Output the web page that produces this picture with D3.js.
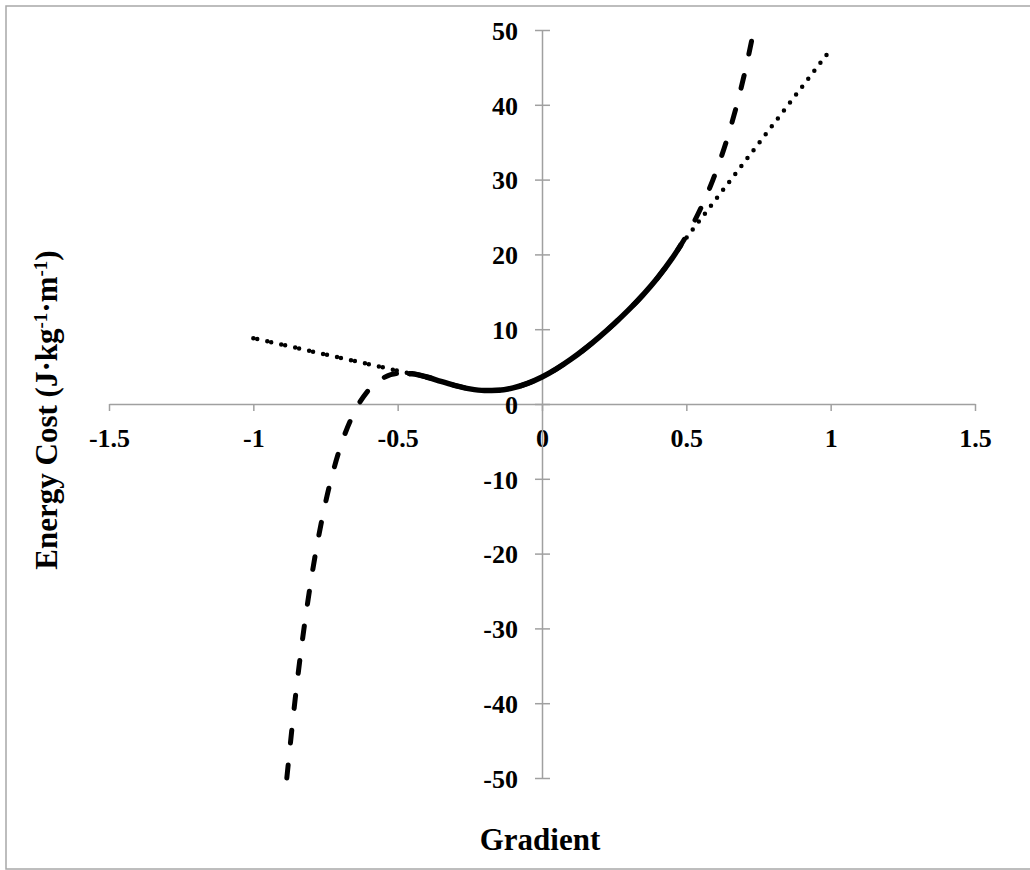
<!DOCTYPE html>
<html>
<head>
<meta charset="utf-8">
<script src="https://cdn.jsdelivr.net/npm/d3@7"></script>
<style>
    body { margin: 0; background: #fff; }
    svg text { font-family: "Liberation Serif", "Times New Roman", serif; font-weight: bold; fill: #000; }
</style>
</head>
<body>
<div id="viz_chart"></div>
<script>
// values
var xTicks = [-1.5, -1, -0.5, 0, 0.5, 1, 1.5];
var yTicks = [-50, -40, -30, -20, -10, 0, 10, 20, 30, 40, 50];

// dashed curve (full polynomial fit, runs off the chart both ends)
var gradDashed = [-0.884, -0.85, -0.8, -0.75, -0.7, -0.65, -0.6, -0.55, -0.5, -0.45, -0.4, -0.35, -0.3, -0.25, -0.2, -0.15, -0.1, -0.05, 0, 0.05, 0.1, 0.15, 0.2, 0.25, 0.3, 0.35, 0.4, 0.45, 0.5, 0.55, 0.6, 0.65, 0.7, 0.734];
var costDashed = [-50, -37.75, -23.57, -13.21, -5.93, -1.08, 1.9, 3.48, 4.08, 4.03, 3.61, 3.03, 2.46, 2.02, 1.8, 1.84, 2.15, 2.75, 3.6, 4.69, 5.97, 7.42, 9.01, 10.73, 12.58, 14.6, 16.85, 19.43, 22.47, 26.17, 30.76, 36.55, 43.9, 50];

// solid curve (measured range)
var gradSolid = [-0.46, -0.45, -0.4, -0.35, -0.3, -0.25, -0.2, -0.15, -0.1, -0.05, 0, 0.05, 0.1, 0.15, 0.2, 0.25, 0.3, 0.35, 0.4, 0.45, 0.48];
var costSolid = [4.06, 4.03, 3.61, 3.03, 2.46, 2.02, 1.8, 1.84, 2.15, 2.75, 3.6, 4.69, 5.97, 7.42, 9.01, 10.73, 12.58, 14.6, 16.85, 19.43, 21.19];

// dotted linear extensions
var gradDotLeft = [-1, -0.46];
var costDotLeft = [8.8, 4.1];
var gradDotRight = [0.48, 1.0];
var costDotRight = [21.2, 47.4];

function zipPts(xs, ys) {
    return xs.map(function(d, i) { return [d, ys[i]]; });
}

function plotChart() {
    var width_svg = 1030;
    var height_svg = 870;

    var svg = d3.select('#viz_chart')
        .append('svg')
        .attr('width', width_svg)
        .attr('height', height_svg);

    // frame
    svg.append('rect')
        .attr('x', 6)
        .attr('y', 6)
        .attr('width', 1040)
        .attr('height', 863)
        .attr('fill', 'none')
        .attr('stroke', '#a8a8a8')
        .attr('stroke-width', 1.5);

    var x = d3.scaleLinear().domain([-1.5, 1.5]).range([109, 975]);
    var y = d3.scaleLinear().domain([-50, 50]).range([778, 30]);

    var axisColor = '#a0a0a0';

    // x axis through y = 0
    var gx = svg.append('g')
        .attr('transform', 'translate(0,' + y(0) + ')')
        .call(d3.axisBottom(x)
            .tickValues(xTicks)
            .tickSize(7)
            .tickSizeOuter(0)
            .tickFormat(function(d) { return String(d); }));
    gx.select('.domain').attr('stroke', axisColor).attr('stroke-width', 1.5);
    gx.selectAll('.tick line').attr('stroke', axisColor).attr('stroke-width', 1.5);
    gx.selectAll('.tick text')
        .attr('y', 43)
        .attr('dy', 0)
        .style('font-size', '26px');

    // y axis through x = 0
    var gy = svg.append('g')
        .attr('transform', 'translate(' + x(0) + ',0)')
        .call(d3.axisLeft(y)
            .tickValues(yTicks)
            .tickSize(7)
            .tickSizeOuter(0)
            .tickFormat(function(d) { return String(d); }));
    gy.select('.domain').attr('stroke', axisColor).attr('stroke-width', 1.5);
    gy.selectAll('.tick line')
        .attr('x1', -7)
        .attr('x2', 8)
        .attr('stroke', axisColor)
        .attr('stroke-width', 1.5);
    gy.selectAll('.tick text')
        .attr('x', -24)
        .attr('dy', '0.36em')
        .style('font-size', '26px');

    var line = d3.line()
        .x(function(d) { return x(d[0]); })
        .y(function(d) { return y(d[1]); })
        .curve(d3.curveMonotoneX);

    var g = svg.append('g')
        .attr('fill', 'none')
        .attr('stroke', '#000')
        .attr('stroke-linecap', 'round');

    // dashed
    g.append('path')
        .attr('d', line(zipPts(gradDashed, costDashed)))
        .attr('stroke-width', 5)
        .attr('stroke-dasharray', '13,22');

    // dotted extensions
    g.append('path')
        .attr('d', line(zipPts(gradDotLeft, costDotLeft)))
        .attr('stroke-width', 4.5)
        .attr('stroke-dasharray', '0,4,0,10.3');

    g.append('path')
        .attr('d', line(zipPts(gradDotRight, costDotRight)))
        .attr('stroke-width', 4.5)
        .attr('stroke-dasharray', '0,10');

    // solid
    g.append('path')
        .attr('d', line(zipPts(gradSolid, costSolid)))
        .attr('stroke-width', 5.5);

    // axis titles
    svg.append('text')
        .attr('x', 540)
        .attr('y', 850)
        .attr('text-anchor', 'middle')
        .style('font-size', '31px')
        .text('Gradient');

    var yt = svg.append('text')
        .attr('transform', 'translate(57,410) rotate(-90)')
        .attr('text-anchor', 'middle')
        .style('font-size', '31px');
    yt.append('tspan').text('Energy Cost (J\u00b7kg');
    yt.append('tspan').attr('baseline-shift', 'super').style('font-size', '19px').text('-1');
    yt.append('tspan').text('\u00b7m');
    yt.append('tspan').attr('baseline-shift', 'super').style('font-size', '19px').text('-1');
    yt.append('tspan').text(')');
}

plotChart();
</script>
</body>
</html>
